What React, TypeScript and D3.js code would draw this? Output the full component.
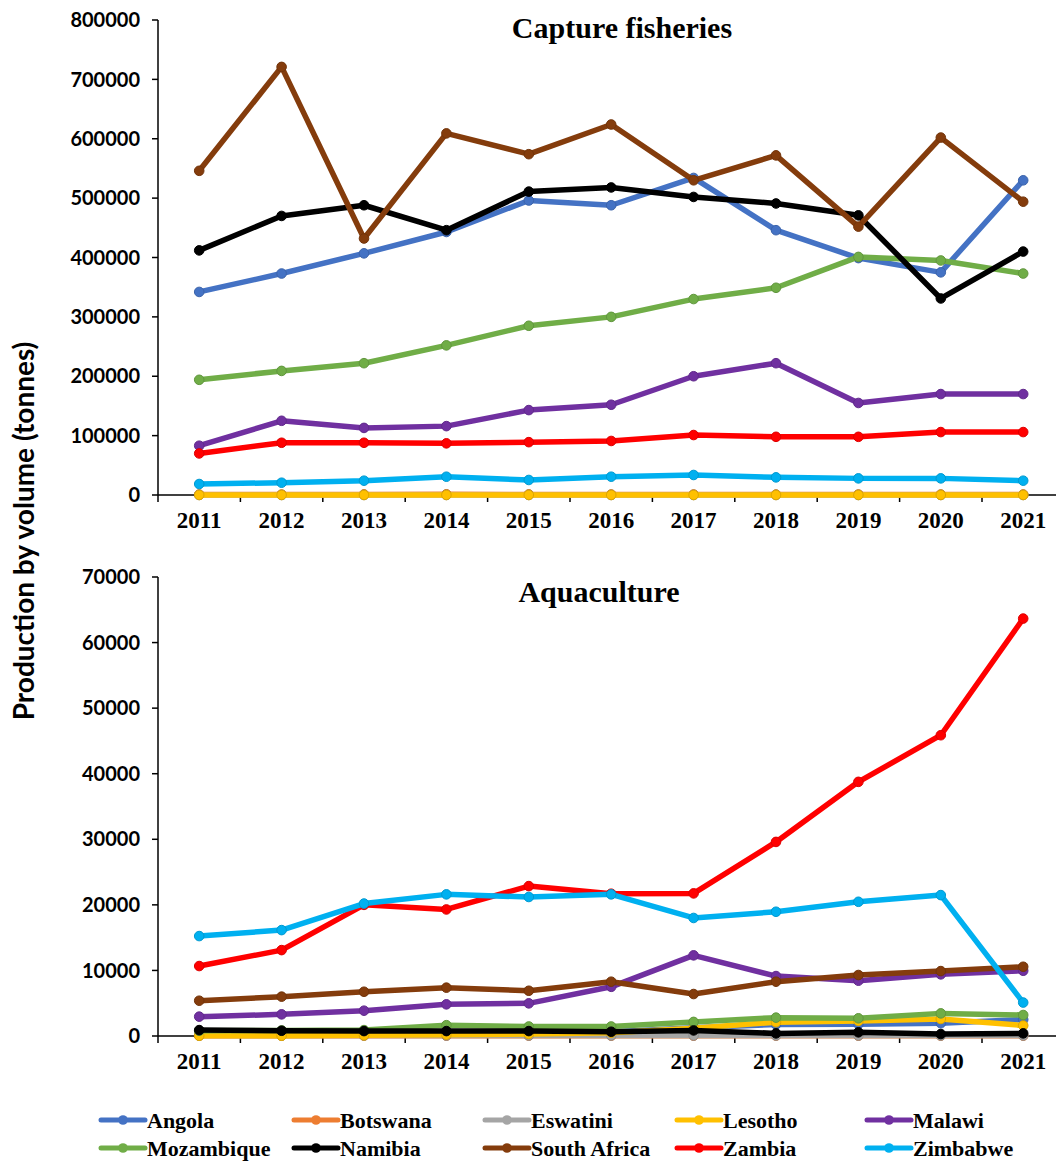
import React from 'react';
import * as d3 from 'd3';

const years = ['2011','2012','2013','2014','2015','2016','2017','2018','2019','2020','2021'];
const countries = ['Angola','Botswana','Eswatini','Lesotho','Malawi','Mozambique','Namibia','South Africa','Zambia','Zimbabwe'];
const colors = ['#4472C4','#ED7D31','#A5A5A5','#FFC000','#7030A0','#70AD47','#000000','#843C0C','#FF0000','#00B0F0'];

const captureTicks = [0,100000,200000,300000,400000,500000,600000,700000,800000];
const aquaTicks = [0,10000,20000,30000,40000,50000,60000,70000];

// Capture fisheries (tonnes)
const capAngola = [342000,373000,407000,443000,496000,488000,534000,446000,399000,375000,530000];
const capBotswana = [900,800,1000,1200,1000,900,900,800,900,900,900];
const capEswatini = [70,70,70,70,70,70,70,70,70,70,70];
const capLesotho = [45,45,45,45,45,45,45,45,45,45,45];
const capMalawi = [83000,125000,113000,116000,143000,152000,200000,222000,155000,170000,170000];
const capMozambique = [194000,209000,222000,252000,285000,300000,330000,349000,401000,395000,373000];
const capNamibia = [412000,470000,488000,446000,511000,518000,502000,491000,471000,331000,410000];
const capSouthAfrica = [546000,721000,432000,609000,574000,624000,530000,572000,452000,602000,494000];
const capZambia = [70000,88000,88000,87000,89000,91000,101000,98000,98000,106000,106000];
const capZimbabwe = [18500,20700,24100,30800,25300,30800,33700,29700,28000,28000,24100];

// Aquaculture (tonnes)
const aqAngola = [100,200,300,400,500,600,1250,1750,1800,1950,2500];
const aqBotswana = [50,50,50,50,50,50,50,50,50,50,50];
const aqEswatini = [80,80,80,80,80,80,80,80,80,80,80];
const aqLesotho = [40,40,100,200,300,500,1200,2100,2300,2600,1600];
const aqMalawi = [2950,3300,3860,4830,4980,7500,12300,9140,8430,9400,9950];
const aqMozambique = [800,850,900,1650,1450,1450,2150,2800,2700,3450,3200];
const aqNamibia = [900,800,750,750,750,650,850,400,560,300,400];
const aqSouthAfrica = [5380,6000,6750,7370,6900,8280,6400,8280,9300,9900,10560];
const aqZambia = [10670,13100,20000,19300,22860,21700,21750,29600,38760,45870,63660];
const aqZimbabwe = [15240,16150,20200,21600,21200,21600,18000,18950,20470,21490,5100];

const captureSeries = [capAngola,capBotswana,capEswatini,capLesotho,capMalawi,capMozambique,capNamibia,capSouthAfrica,capZambia,capZimbabwe];
const aquaSeries = [aqAngola,aqBotswana,aqEswatini,aqLesotho,aqMalawi,aqMozambique,aqNamibia,aqSouthAfrica,aqZambia,aqZimbabwe];

const W = 1056, H = 1162;
const axisX = 158;
const step = 82.4;

const xScale = d3.scaleBand<string>().domain(years).range([axisX, axisX + step * years.length]).padding(0);
const cx = (y: string) => (xScale(y) as number) + xScale.bandwidth() / 2;

const sansFont = "Lato, 'Open Sans', sans-serif";
const serifFont = "'Liberation Serif', 'Times New Roman', serif";

function Panel({ series, domainMax, top, bottom, ticks, title, titleX, titleY }: any) {
  const y = d3.scaleLinear().domain([0, domainMax]).range([bottom, top]);
  const line = d3.line<number>().x((_, i) => cx(years[i])).y(d => y(d));
  const boundaries = years.map(yr => xScale(yr) as number).concat([(xScale(years[years.length - 1]) as number) + xScale.bandwidth()]);
  return (
    <g>
      <text x={titleX} y={titleY} textAnchor="middle" fontFamily={serifFont} fontWeight="bold" fontSize={30} fill="#000">{title}</text>
      <line x1={axisX} x2={axisX} y1={y(domainMax)} y2={y(0)} stroke="#000" strokeWidth={1.5} />
      {ticks.map((t: number) => (
        <g key={t}>
          <line x1={axisX - 6} x2={axisX} y1={y(t)} y2={y(t)} stroke="#000" strokeWidth={1.5} />
          <text x={140} y={y(t)} dy="0.36em" textAnchor="end" fontFamily={sansFont} fontWeight="bold" fontSize={20} fill="#000">{t}</text>
        </g>
      ))}
      <line x1={axisX} x2={W} y1={y(0)} y2={y(0)} stroke="#000" strokeWidth={1.5} />
      {boundaries.map((b, i) => (
        <line key={i} x1={b} x2={b} y1={y(0)} y2={y(0) + 7} stroke="#000" strokeWidth={1.5} />
      ))}
      {years.map(yr => (
        <text key={yr} x={cx(yr)} y={y(0) + 33} textAnchor="middle" fontFamily={serifFont} fontWeight="bold" fontSize={23} fill="#000">{yr}</text>
      ))}
      {series.map((s: number[], si: number) => (
        <g key={si}>
          <path d={line(s) as string} fill="none" stroke={colors[si]} strokeWidth={5.5} strokeLinejoin="round" strokeLinecap="round" />
          {s.map((v, i) => (
            <circle key={i} cx={cx(years[i])} cy={y(v)} r={4.8} fill={colors[si]} stroke={d3.color(colors[si])!.darker(0.4).toString()} strokeWidth={1} />
          ))}
        </g>
      ))}
    </g>
  );
}

const legendCols = [101, 294, 485, 677, 867];
const legendRows = [1120, 1148];

export default function App() {
  return (
    <div style={{ position: 'absolute', left: 0, top: 0 }}>
      <svg width={W} height={H} style={{ display: 'block', background: '#fff' }}>
        <rect x={0} y={0} width={W} height={H} fill="#fff" />
        <Panel series={captureSeries} domainMax={800000} top={20} bottom={495} ticks={captureTicks} title="Capture fisheries" titleX={622} titleY={38} />
        <Panel series={aquaSeries} domainMax={70000} top={577} bottom={1036} ticks={aquaTicks} title="Aquaculture" titleX={599} titleY={602} />
        <text transform={`translate(34,531) rotate(-90)`} textAnchor="middle" fontFamily={sansFont} fontWeight="bold" fontSize={28} fill="#000">Production by volume (tonnes)</text>
        {countries.map((c, i) => {
          const col = i % 5, row = Math.floor(i / 5);
          const x0 = legendCols[col], yy = legendRows[row];
          return (
            <g key={c}>
              <line x1={x0} x2={x0 + 44} y1={yy} y2={yy} stroke={colors[i]} strokeWidth={5} strokeLinecap="round" />
              <circle cx={x0 + 22} cy={yy} r={4.8} fill={colors[i]} />
              <text x={x0 + 46} y={yy} dy="0.35em" fontFamily={serifFont} fontWeight="bold" fontSize={22} fill="#000">{c}</text>
            </g>
          );
        })}
      </svg>
    </div>
  );
}
